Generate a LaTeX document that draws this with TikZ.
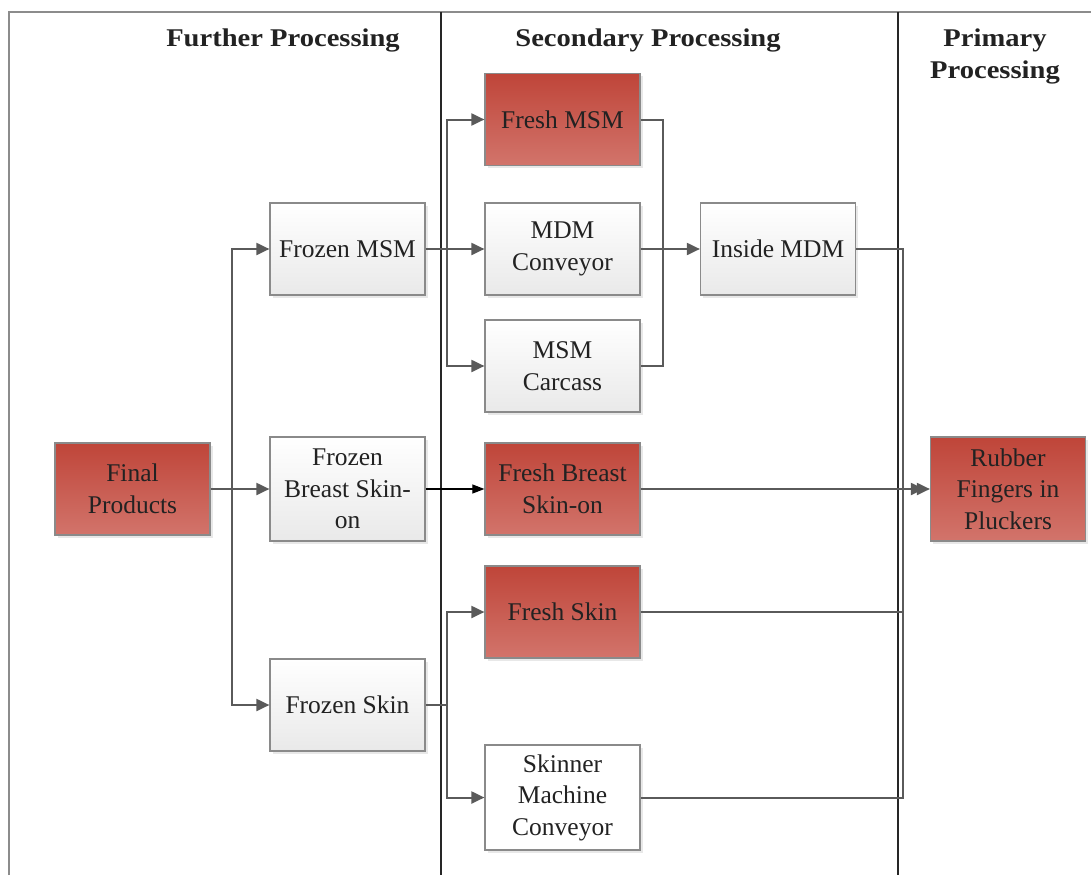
\documentclass[tikz,border=0pt]{standalone}
\usepackage{fontspec}
\setmainfont{Liberation Serif}
\newfontfamily\headfont{Liberation Serif}[FakeStretch=1.12]
\usetikzlibrary{arrows.meta,shadows}

\definecolor{linegray}{HTML}{5A5A5A}
\definecolor{boxedge}{HTML}{8A8A8A}
\definecolor{redtop}{HTML}{BF4539}
\definecolor{redbot}{HTML}{D2746B}
\definecolor{graybot}{HTML}{E9E9E9}
\definecolor{inkcol}{HTML}{222222}

\tikzset{
  box/.style={draw=boxedge, line width=1.2pt, minimum width=155pt, minimum height=92pt,
    inner sep=0pt, align=center, text=inkcol,
    font=\fontsize{25.5}{31.5}\selectfont,
    drop shadow={shadow xshift=2.5pt, shadow yshift=-2.5pt, opacity=0.18, fill=gray}},
  redbox/.style={box, top color=redtop, bottom color=redbot},
  greybox/.style={box, top color=white, bottom color=graybot},
  plainbox/.style={box, fill=white},
  tall/.style={minimum height=104pt},
  header/.style={font=\headfont\bfseries\fontsize{25.5}{32}\selectfont, text=inkcol, align=center},
  conn/.style={draw=linegray, line width=2pt},
  arr/.style={conn, -{Triangle[length=13pt,width=12pt]}},
  thinarr/.style={draw=black, line width=1.1pt, -{Triangle[length=12pt,width=9pt]}},
  divider/.style={draw=black!85, line width=2pt},
  frame/.style={draw=black!45, line width=1.4pt}
}

\begin{document}
\begin{tikzpicture}[x=1pt,y=-1pt]
  \useasboundingbox (0,0) rectangle (1091,875);

  % page frame and lane dividers
  \draw[frame] (9,875) -- (9,12) -- (1091,12);
  \draw[divider] (441,12) -- (441,875);
  \draw[divider] (898,12) -- (898,875);

  % lane titles
  \node[header, anchor=base] (hfurther) at (283,47) {Further Processing};
  \node[header, anchor=base] (hsecond) at (648,47) {Secondary Processing};
  \node[header] (hprimary) at (995,56.5) {Primary\\Processing};

  % further processing
  \node[redbox] (final) at (132.5,489) {Final\\Products};
  \node[greybox] (fmsm) at (347.5,249) {Frozen MSM};
  \node[greybox, tall] (fbreast) at (347.5,489) {Frozen\\Breast Skin-\\on};
  \node[greybox] (fskin) at (347.5,705) {Frozen Skin};

  % secondary processing
  \node[redbox] (freshmsm) at (562.5,119.5) {Fresh MSM};
  \node[greybox] (mdmconv) at (562.5,249) {MDM\\Conveyor};
  \node[greybox] (carcass) at (562.5,366) {MSM\\Carcass};
  \node[greybox] (inside) at (778,249) {Inside MDM};
  \node[redbox] (freshbreast) at (562.5,489) {Fresh Breast\\Skin-on};
  \node[redbox] (freshskin) at (562.5,612) {Fresh Skin};
  \node[plainbox, minimum height=105pt] (skinner) at (562.5,797.5) {Skinner\\Machine\\Conveyor};

  % primary processing
  \node[redbox, tall] (rubber) at (1008,489) {Rubber\\Fingers in\\Pluckers};

  % bus lines
  \coordinate (busA) at (232,0);
  \coordinate (busB) at (447,0);
  \coordinate (busC) at (663,0);
  \coordinate (busD) at (903,0);

  % final products fan-out
  \draw[arr] (final.east) -- (fbreast.west);
  \draw[arr] (final.east -| busA) |- (fmsm.west);
  \draw[arr] (final.east -| busA) |- (fskin.west);

  % frozen MSM fan-out
  \draw[arr] (fmsm.east) -- (mdmconv.west);
  \draw[arr] (fmsm.east -| busB) |- (freshmsm.west);
  \draw[arr] (fmsm.east -| busB) |- (carcass.west);
  \draw[conn] (fmsm.east) -- (fmsm.east -| busB);

  % MSM sources into inside MDM
  \draw[conn] (freshmsm.east) -- (freshmsm.east -| busC) -- (carcass.east -| busC) -- (carcass.east);
  \draw[arr] (mdmconv.east) -- (inside.west);

  % breast skin
  \draw[thinarr] (fbreast.east) -- (freshbreast.west);

  % frozen skin fan-out
  \draw[conn] (fskin.east) -- (fskin.east -| busB);
  \draw[arr] (fskin.east -| busB) |- (freshskin.west);
  \draw[arr] (fskin.east -| busB) |- (skinner.west);

  % collection into rubber fingers
  \draw[conn] (inside.east) -- (inside.east -| busD) -- (skinner.east -| busD) -- (skinner.east);
  \draw[conn] (freshskin.east) -- (freshskin.east -| busD);
  \draw[arr] (freshbreast.east) -- (rubber.west);
  \draw[arr, shorten >=6pt] (rubber.west -| busD) -- (rubber.west);
\end{tikzpicture}
\end{document}
